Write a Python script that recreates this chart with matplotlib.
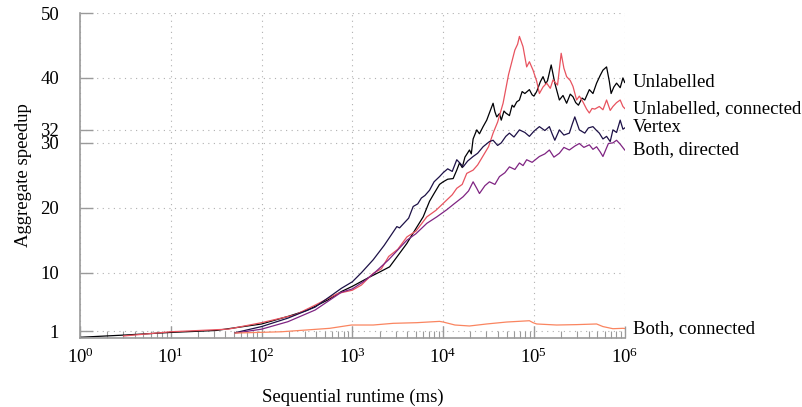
import matplotlib
matplotlib.use("Agg")
import matplotlib.pyplot as plt
from matplotlib.ticker import NullFormatter
import numpy as np

plt.rcParams['font.family'] = ['Liberation Serif', 'DejaVu Serif']
plt.rcParams['mathtext.fontset'] = 'custom'
plt.rcParams['mathtext.rm'] = 'Liberation Serif'
plt.rcParams['mathtext.it'] = 'Liberation Serif:italic'

# exponents of sequential runtime (log10 ms) and aggregate speedup
unl_exp = [0, 0.5, 1.0, 1.5, 2.0, 2.3, 2.5, 2.73, 2.88, 3.0, 3.2, 3.3, 3.41, 3.5, 3.6,
           3.7, 3.78, 3.85, 3.9, 3.96, 4.0, 4.05, 4.11, 4.15, 4.18, 4.21, 4.24, 4.29,
           4.31, 4.33, 4.37, 4.40, 4.44, 4.48, 4.52, 4.55, 4.57, 4.59, 4.62, 4.64, 4.67,
           4.69, 4.73, 4.76, 4.78, 4.81, 4.84, 4.87, 4.9, 4.95, 4.98, 5.0, 5.03, 5.07,
           5.10, 5.13, 5.15, 5.19, 5.21, 5.23, 5.28, 5.32, 5.36, 5.40, 5.43, 5.46, 5.49,
           5.53, 5.56, 5.61, 5.65, 5.69, 5.73, 5.76, 5.80, 5.83, 5.85, 5.88, 5.91, 5.95,
           5.98, 6.0]
unl_val = [0.05, 0.4, 0.8, 1.1, 2.1, 3.3, 4.2, 5.8, 7.1, 7.9, 9.4, 10.1, 10.9, 12.6, 14.5,
           16.8, 18.6, 21.0, 22.2, 23.6, 24.0, 24.4, 24.5, 25.8, 26.9, 26.2, 27.8, 28.9,
           28.3, 30.6, 32.0, 31.4, 32.5, 33.5, 35.0, 36.1, 34.8, 34.0, 34.5, 33.5, 34.9,
           34.6, 34.2, 35.8, 35.5, 36.3, 36.6, 37.9, 37.6, 38.2, 37.4, 37.2, 37.9, 39.4,
           40.2, 39.1, 39.6, 42.0, 40.6, 39.2, 36.6, 37.3, 36.1, 37.5, 37.1, 36.2, 35.8,
           36.9, 36.6, 38.2, 37.6, 39.2, 40.4, 41.2, 41.7, 39.5, 37.6, 38.6, 39.2, 38.5,
           40.0, 39.3]

unlc_exp = [0.48, 1.0, 1.63, 2.0, 2.37, 2.59, 2.84, 3.0, 3.1, 3.23, 3.32, 3.4, 3.5, 3.6,
            3.7, 3.82, 3.92, 4.04, 4.1, 4.15, 4.21, 4.26, 4.33, 4.38, 4.44, 4.5, 4.55,
            4.6, 4.66, 4.72, 4.79, 4.82, 4.84, 4.86, 4.88, 4.92, 4.95, 4.99, 5.03, 5.06,
            5.10, 5.14, 5.18, 5.21, 5.26, 5.30, 5.33, 5.36, 5.40, 5.43, 5.47, 5.50, 5.54,
            5.58, 5.61, 5.64, 5.67, 5.72, 5.76, 5.80, 5.84, 5.87, 5.91, 5.95, 5.98, 6.0]
unlc_val = [0.25, 0.9, 1.3, 2.3, 3.5, 5.0, 6.8, 7.3, 8.1, 9.9, 10.6, 12.5, 13.6, 15.5,
            16.4, 18.6, 19.6, 21.2, 22.0, 23.0, 23.6, 25.3, 25.8, 26.6, 28.0, 29.4, 31.5,
            33.2, 36.1, 40.5, 44.3, 45.2, 46.4, 45.6, 44.8, 41.7, 42.5, 41.2, 39.5, 37.6,
            38.6, 39.2, 38.4, 39.7, 38.9, 43.8, 41.5, 40.2, 39.6, 38.7, 36.6, 37.2, 36.3,
            35.2, 34.6, 35.3, 35.2, 35.6, 35.1, 36.6, 35.0, 35.6, 36.2, 36.6, 35.6, 35.3]

vert_exp = [1.71, 2.0, 2.29, 2.59, 2.88, 3.0, 3.1, 3.23, 3.35, 3.49, 3.52, 3.56, 3.62,
            3.67, 3.72, 3.76, 3.8, 3.85, 3.9, 3.96, 4.0, 4.05, 4.1, 4.15, 4.19, 4.22,
            4.27, 4.33, 4.38, 4.44, 4.51, 4.55, 4.6, 4.64, 4.69, 4.73, 4.78, 4.84, 4.9,
            4.95, 5.0, 5.06, 5.12, 5.17, 5.2, 5.23, 5.28, 5.33, 5.39, 5.42, 5.45, 5.50,
            5.56, 5.60, 5.65, 5.69, 5.72, 5.76, 5.80, 5.84, 5.87, 5.91, 5.95, 5.98, 6.0]
vert_val = [0.76, 1.7, 3.0, 4.7, 7.6, 8.6, 10.0, 12.0, 14.2, 17.1, 16.9, 17.5, 18.4,
            20.2, 20.6, 21.5, 21.9, 22.7, 24.0, 24.8, 25.4, 26.0, 25.6, 27.4, 26.8, 26.3,
            27.2, 27.9, 28.4, 29.4, 30.2, 30.4, 29.6, 30.0, 31.0, 31.5, 30.9, 32.0, 31.6,
            31.0, 31.8, 32.5, 31.9, 32.5, 31.4, 30.4, 32.0, 31.2, 31.5, 32.8, 34.0, 32.0,
            31.5, 32.3, 32.5, 31.9, 31.5, 30.6, 31.0, 30.2, 32.0, 31.6, 33.5, 32.1, 32.3]

bdir_exp = [1.71, 2.0, 2.29, 2.59, 2.88, 3.0, 3.12, 3.23, 3.4, 3.5, 3.6, 3.7, 3.82, 3.93,
            4.04, 4.12, 4.22, 4.28, 4.33, 4.37, 4.40, 4.46, 4.51, 4.57, 4.62, 4.68, 4.73,
            4.79, 4.84, 4.88, 4.92, 4.98, 5.06, 5.12, 5.17, 5.22, 5.28, 5.33, 5.39, 5.45,
            5.50, 5.55, 5.61, 5.65, 5.69, 5.73, 5.76, 5.82, 5.87, 5.91, 5.95, 6.0]
bdir_val = [0.7, 1.3, 2.45, 4.25, 7.0, 7.5, 8.6, 9.8, 12.0, 13.5, 15.0, 16.0, 17.6, 18.6,
            19.7, 20.6, 21.7, 22.6, 24.0, 23.0, 22.2, 23.4, 24.0, 23.6, 24.8, 25.4, 26.3,
            25.9, 26.9, 26.5, 27.4, 27.0, 27.9, 28.3, 28.9, 27.8, 28.4, 29.3, 28.9, 29.5,
            29.9, 29.3, 29.7, 29.0, 29.4, 28.6, 27.9, 29.9, 30.0, 30.4, 29.8, 28.9]

bcon_exp = [1.71, 2.22, 2.75, 2.99, 3.23, 3.45, 3.71, 3.96, 4.0, 4.13, 4.29, 4.48, 4.70,
            4.95, 4.99, 5.03, 5.25, 5.47, 5.69, 5.76, 5.87, 5.98, 6.0]
bcon_val = [0.7, 0.9, 1.43, 1.94, 1.94, 2.2, 2.3, 2.5, 2.4, 1.94, 1.79, 2.1, 2.4,
            2.6, 2.3, 2.1, 1.94, 2.0, 2.1, 1.7, 1.37, 1.43, 1.4]

series = [
    ("Unlabelled", unl_exp, unl_val, "#000004"),
    ("Unlabelled, connected", unlc_exp, unlc_val, "#e8535f"),
    ("Vertex", vert_exp, vert_val, "#1d1147"),
    ("Both, directed", bdir_exp, bdir_val, "#7f2482"),
    ("Both, connected", bcon_exp, bcon_val, "#fa8560"),
]

y_ticks = [1, 10, 20, 30, 32, 40, 50]

fig = plt.figure(figsize=(8.03, 4.07), dpi=100)
ax = fig.add_axes([0.0996, 0.1705, 0.6784, 0.7975])

for name, ex, val, col in series:
    xs = 10.0 ** np.array(ex)
    ax.plot(xs, val, color=col, lw=0.9)
    ax.annotate(name, (xs[-1], val[-1]), xytext=(6, 0), textcoords='offset points',
                va='center', ha='left', fontsize=13.5, annotation_clip=False)

ax.set_xscale('log')
ax.set_xlim(1, 1e6)
ax.set_ylim(0, 50)
ax.set_yticks(y_ticks)
ax.set_yticklabels([str(t) for t in y_ticks])
ax.xaxis.set_minor_formatter(NullFormatter())

for s in ['top', 'right']:
    ax.spines[s].set_visible(False)
for s in ['left', 'bottom']:
    ax.spines[s].set_color('#9a9a9a')
    ax.spines[s].set_linewidth(1.2)

ax.tick_params(axis='both', which='major', direction='in', color='#9a9a9a',
               width=1.0, labelsize=13.5)
ax.tick_params(axis='y', length=9, pad=15)
ax.tick_params(axis='x', which='major', length=9, pad=7)
ax.tick_params(axis='x', which='minor', direction='in', length=5, width=0.8, color='#9a9a9a')
ax.grid(True, which='major', linestyle=(0, (1, 4)), color='#b0b0b0', lw=0.8)

ax.set_xlabel("Sequential runtime (ms)", fontsize=13.5, labelpad=16)
ax.set_ylabel("Aggregate speedup", fontsize=13.5, labelpad=6)

fig.savefig("out.png", dpi=100)
